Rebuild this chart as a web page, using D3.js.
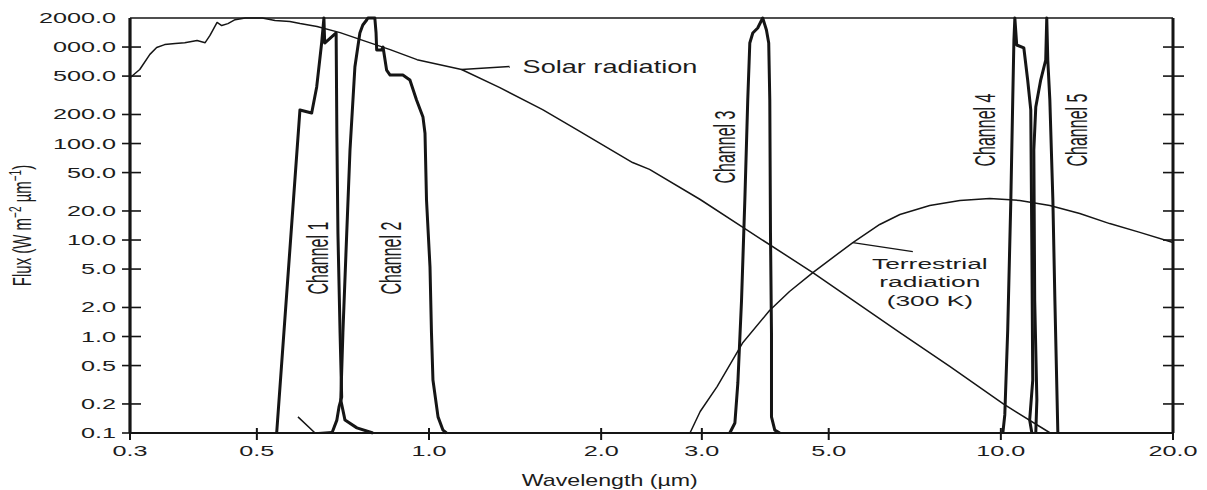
<!DOCTYPE html>
<html>
<head>
<meta charset="utf-8">
<script src="https://cdn.jsdelivr.net/npm/d3@7"></script>
<style>
  body { margin: 0; background: #fff; }
  text { font-family: "Liberation Sans", Arial, sans-serif; fill: #1c1c1c; }
</style>
</head>
<body>
<svg id="chart" width="1207" height="490"></svg>
<script>
// [wavelength (um), flux (W m-2 um-1)]
const solar = [[0.30,480],[0.312,585],[0.325,840],[0.334,990],[0.345,1060],[0.36,1090],[0.374,1110],
  [0.393,1170],[0.406,1110],[0.414,1320],[0.426,1800],[0.434,1670],[0.445,1750],[0.458,1920],[0.477,2000],
  [0.511,2000],[0.538,1880],[0.571,1840],[0.595,1750],[0.637,1630],[0.699,1410],[0.757,1200],[0.855,940],
  [0.953,740],[1.14,585],[1.33,380],[1.58,225],[1.81,140],[2.27,63.5],[2.43,54],[2.98,26.3],[3.54,13.5],
  [4.69,4.6],[6.66,1.1],[8.14,0.49],[10.1,0.2],[12.2,0.1]];

const terrestrial = [[2.86,0.1],[2.98,0.167],[3.19,0.303],[3.54,0.867],[3.94,1.86],[4.27,2.93],[4.69,4.6],
  [5.51,9.42],[6.14,14.5],[6.66,18.4],[7.51,22.8],[8.48,25.7],[9.56,26.9],[10.79,25.7],[12.18,22.8],
  [13.74,18.8],[15.5,14.8],[17.5,12.0],[20.0,9.42]];

const channel1 = [[0.5415,0.1],[0.5947,223],[0.6235,207],[0.6362,386],[0.649,1101],[0.655,2000],
  [0.657,1100],[0.688,1399],[0.690,128],[0.693,11.8],[0.699,1.09],[0.7035,0.236],[0.696,0.186],
  [0.690,0.136],[0.6765,0.1]];
const channel1Tail = [[0.590,0.147],[0.632,0.1],[0.6765,0.103]];

const channel2 = [[0.798,0.1],[0.748,0.113],[0.713,0.136],[0.701,0.22],[0.707,1.09],[0.718,11.8],
  [0.7275,85.7],[0.742,621],[0.757,1399],[0.766,1691],[0.778,1906],[0.782,2000],[0.804,2000],[0.808,1399],
  [0.810,932],[0.826,932],[0.831,1001],[0.843,578],[0.855,513],[0.900,513],[0.926,455],[0.951,283],
  [0.976,188],[0.984,128],[0.990,26],[1.004,5.25],[1.010,1.09],[1.016,0.354],[1.037,0.147],[1.058,0.107],
  [1.073,0.1]];

const channel3 = [[3.357,0.1],[3.427,0.127],[3.468,0.33],[3.520,2.39],[3.567,26],[3.609,283],[3.639,1101],
  [3.683,1399],[3.757,1575],[3.833,2000],[3.891,1503],[3.927,1101],[3.944,283],[3.955,11.8],[3.971,1.09],
  [3.971,0.147],[4.024,0.107],[4.106,0.1]];

const channel4 = [[10.08,0.1],[10.16,0.154],[10.28,1.17],[10.41,26],[10.49,283],[10.54,1183],[10.58,2000],
  [10.66,1050],[10.97,978],[11.14,455],[11.28,223],[11.33,7.9],[11.37,0.354],[11.23,0.136],[11.33,0.1]];

const channel5 = [[11.51,0.1],[11.56,0.22],[11.46,2.39],[11.42,85.7],[11.51,239],[11.74,455],[11.98,734],
  [12.03,2000],[12.08,734],[12.18,283],[12.33,26],[12.43,2.39],[12.58,0.1]];

const channelNames = ["Channel 1", "Channel 2", "Channel 3", "Channel 4", "Channel 5"];
const channelLabelPos = [[0.640,6.5],[0.858,6.5],[3.29,92],[9.37,138],[13.57,138]];

const xTicks = [0.3, 0.5, 1, 2, 3, 5, 10, 20];
const xTickLabels = ["0.3", "0.5", "1.0", "2.0", "3.0", "5.0", "10.0", "20.0"];
const yTicks = [2000, 1000, 500, 200, 100, 50, 20, 10, 5, 2, 1, 0.5, 0.2, 0.1];
const yTickLabels = ["2000.0", "000.0", "500.0", "200.0", "100.0", "50.0", "20.0", "10.0",
  "5.0", "2.0", "1.0", "0.5", "0.2", "0.1"];

const solarLabel = "Solar radiation";
const terrestrialLabel = ["Terrestrial", "radiation", "(300 K)"];

// the scanned figure is stretched sideways, so text gets squashed the same way
const sxTick = 1.8, sxLabel = 1.55, sxRot = 1.8;
const ink = "#151515";

let svg = d3.select("#chart"),
    margin = {top: 18, right: 34, bottom: 57, left: 130},
    width = 1207 - margin.left - margin.right,
    height = 490 - margin.top - margin.bottom;

let x = d3.scaleLog().domain([0.3, 20]).range([margin.left, margin.left + width]);
let y = d3.scaleLog().domain([0.1, 2000]).range([margin.top + height, margin.top]);

let line = d3.line()
    .x(d => x(d[0]))
    .y(d => y(d[1]));

function addText(parent, px, py, str, size, sx, anchor, rot) {
    let g = parent.append("g")
        .attr("transform", "translate(" + px + "," + py + ") scale(" + sx + ",1)" + (rot ? " rotate(" + rot + ")" : ""));
    return g.append("text")
        .attr("text-anchor", anchor || "start")
        .style("font-size", size + "px")
        .text(str);
}

// frame
let x0 = x(0.3), x1 = x(20), y0 = y(0.1), y1 = y(2000);
svg.append("line").attr("x1", x0).attr("x2", x1).attr("y1", y1).attr("y2", y1)
    .attr("stroke", ink).attr("stroke-width", 1.6);
svg.append("line").attr("x1", x0).attr("x2", x1).attr("y1", y0).attr("y2", y0)
    .attr("stroke", ink).attr("stroke-width", 1.8);
svg.append("line").attr("x1", x0).attr("x2", x0).attr("y1", y1).attr("y2", y0)
    .attr("stroke", ink).attr("stroke-width", 3.2);
svg.append("line").attr("x1", x1).attr("x2", x1).attr("y1", y1).attr("y2", y0)
    .attr("stroke", ink).attr("stroke-width", 3);

// y ticks, left with labels, right without
yTicks.forEach((v, i) => {
    if (v !== 2000) {
        svg.append("line").attr("x1", x0 - 8).attr("x2", x0 + 11).attr("y1", y(v)).attr("y2", y(v))
            .attr("stroke", ink).attr("stroke-width", 1.6);
    }
    if (v !== 2000 && v !== 0.1) {
        svg.append("line").attr("x1", x1 - 10).attr("x2", x1 + 11).attr("y1", y(v)).attr("y2", y(v))
            .attr("stroke", ink).attr("stroke-width", 1.6);
    }
    addText(svg, x0 - 14, y(v) + 5, yTickLabels[i], 14, sxTick, "end");
});

// x ticks
xTicks.forEach((v, i) => {
    svg.append("line").attr("x1", x(v)).attr("x2", x(v)).attr("y1", y0 - 5).attr("y2", y0 + 7)
        .attr("stroke", ink).attr("stroke-width", 2);
    addText(svg, x(v), y0 + 23, xTickLabels[i], 14, sxTick, "middle");
});

// axis titles
addText(svg, margin.left + width * 0.46, 486, "Wavelength (\u00b5m)", 16, 1.45, "middle");
let yt = addText(svg, 31, margin.top + height * 0.5, "", 15, 1.7, "middle", -90);
yt.append("tspan").text("Flux (W m");
yt.append("tspan").attr("dy", -6).style("font-size", "10px").text("\u22122");
yt.append("tspan").attr("dy", 6).text(" \u00b5m");
yt.append("tspan").attr("dy", -6).style("font-size", "10px").text("\u22121");
yt.append("tspan").attr("dy", 6).text(")");

// radiation curves (thin)
[solar, terrestrial, channel1Tail].forEach(s => {
    svg.append("path").datum(s).attr("d", line)
        .attr("fill", "none").attr("stroke", ink).attr("stroke-width", 1.5)
        .attr("stroke-linejoin", "round");
});

// channel response curves (thick)
[channel1, channel2, channel3, channel4, channel5].forEach(s => {
    svg.append("path").datum(s).attr("d", line)
        .attr("fill", "none").attr("stroke", ink).attr("stroke-width", 3)
        .attr("stroke-linejoin", "round");
});

channelNames.forEach((n, i) => {
    let p = channelLabelPos[i];
    addText(svg, x(p[0]), y(p[1]), n, 16, sxRot, "middle", -90)
        .attr("dominant-baseline", "central");
});

// solar annotation
let sa = [x(1.14), y(585)];
svg.append("line").attr("x1", sa[0]).attr("y1", sa[1]).attr("x2", sa[0] + 48).attr("y2", sa[1] - 3)
    .attr("stroke", ink).attr("stroke-width", 1.3);
addText(svg, sa[0] + 61, sa[1] + 3, solarLabel, 17.5, sxLabel, "start");

// terrestrial annotation
let ta = [x(5.51), y(9.42)];
svg.append("line").attr("x1", ta[0]).attr("y1", ta[1]).attr("x2", ta[0] + 60).attr("y2", ta[1] + 9)
    .attr("stroke", ink).attr("stroke-width", 1.3);
terrestrialLabel.forEach((t, i) => {
    addText(svg, ta[0] + 77, ta[1] + 26 + i * 18.5, t, 15.5, 1.7, "middle");
});
</script>
</body>
</html>
